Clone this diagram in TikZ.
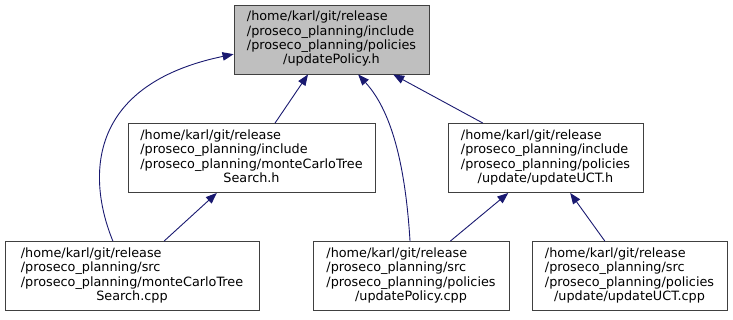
\documentclass[tikz,border=0pt]{standalone}
\usepackage{fontspec}
\setmainfont{DejaVu Sans}
\usetikzlibrary{arrows.meta,calc}

\definecolor{edgeblue}{HTML}{191970}
\definecolor{boxline}{HTML}{404040}
\definecolor{rootfill}{HTML}{BFBFBF}

% three left-aligned lines, the last one centred
\newcommand\filelabel[4]{%
  \begin{tabular}{@{}l@{}}#1\\#2\\#3\\\multicolumn{1}{@{}c@{}}{#4}\end{tabular}}

\tikzset{
  x=1pt, y=-1pt,
  filebox/.style={draw=boxline, line width=0.9pt, fill=white, inner sep=0pt,
    minimum height=69pt, font=\fontsize{12.8}{14.3}\selectfont},
  rootbox/.style={filebox, fill=rootfill},
  incl/.style={draw=edgeblue, line width=0.9pt,
    -{Triangle[length=11pt,width=8.5pt]}},
}

\begin{document}
\begin{tikzpicture}
\useasboundingbox (0,0) rectangle (733,319);

\node[rootbox, minimum width=195pt] (root) at (331.5,39.5)
  {\filelabel{/home/karl/git/release}{/proseco\_planning/include}{/proseco\_planning/policies}{/updatePolicy.h}};

\node[filebox, minimum width=247pt] (mcts) at (251.5,158)
  {\filelabel{/home/karl/git/release}{/proseco\_planning/include}{/proseco\_planning/monteCarloTree}{Search.h}};

\node[filebox, minimum width=195pt] (uct) at (545.5,158)
  {\filelabel{/home/karl/git/release}{/proseco\_planning/include}{/proseco\_planning/policies}{/update/updateUCT.h}};

\node[filebox, minimum width=254pt] (mctscpp) at (132,276)
  {\filelabel{/home/karl/git/release}{/proseco\_planning/src}{/proseco\_planning/monteCarloTree}{Search.cpp}};

\node[filebox, minimum width=196pt] (policycpp) at (411,276)
  {\filelabel{/home/karl/git/release}{/proseco\_planning/src}{/proseco\_planning/policies}{/updatePolicy.cpp}};

\node[filebox, minimum width=195pt] (uctcpp) at (629.5,276)
  {\filelabel{/home/karl/git/release}{/proseco\_planning/src}{/proseco\_planning/policies}{/update/updateUCT.cpp}};

% include edges, arrow at the included header
\draw[incl] ($(mctscpp.north west)!0.425!(mctscpp.north east)$)
  .. controls +(-25,-61) and +(-149,31) ..
  ($(root.north west)!0.71!(root.south west)$);
\draw[incl] ($(mcts.north west)!0.595!(mcts.north east)$)
  -- ($(root.south west)!0.38!(root.south east)$);
\draw[incl] ($(policycpp.north west)!0.495!(policycpp.north east)$)
  .. controls +(-5,-81) and +(32,35) ..
  ($(root.south west)!0.636!(root.south east)$);
\draw[incl] ($(uct.north west)!0.18!(uct.north east)$)
  -- ($(root.south west)!0.815!(root.south east)$);
\draw[incl] ($(mctscpp.north west)!0.626!(mctscpp.north east)$)
  -- ($(mcts.south west)!0.36!(mcts.south east)$);
\draw[incl] ($(policycpp.north west)!0.70!(policycpp.north east)$)
  -- ($(uct.south west)!0.31!(uct.south east)$);
\draw[incl] ($(uctcpp.north west)!0.374!(uctcpp.north east)$)
  -- ($(uct.south west)!0.626!(uct.south east)$);
\end{tikzpicture}
\end{document}
